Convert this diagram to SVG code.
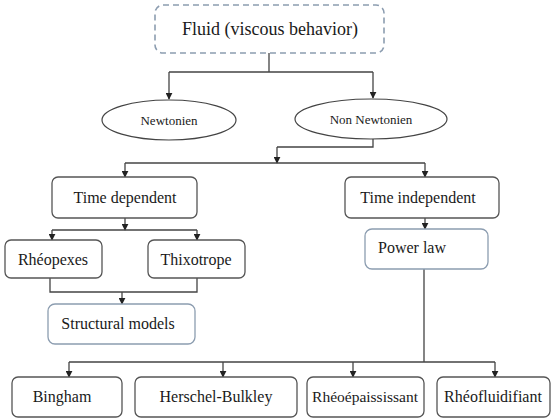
<svg xmlns="http://www.w3.org/2000/svg" width="552" height="418" viewBox="0 0 552 418">
<style>
.box{fill:#fff;stroke:#555;stroke-width:1.3}
.blue{fill:#fff;stroke:#8c9db0;stroke-width:1.3}
.dash{fill:#fff;stroke:#8c9db0;stroke-width:1.6;stroke-dasharray:6 4}
.ell{fill:#fff;stroke:#444;stroke-width:1.2}
.ln{fill:none;stroke:#444;stroke-width:1.3}
</style>
<defs>
<marker id="ah" viewBox="0 0 10 10" refX="9" refY="5" markerWidth="7" markerHeight="7" markerUnits="userSpaceOnUse" orient="auto">
<path d="M0,0 L10,5 L0,10 z" fill="#222"/>
</marker>
</defs>
<rect width="552" height="418" fill="#fff"/>
<g id="connectors">
<path class="ln" d="M269,53 V72 M169,72 H373"/>
<path class="ln" d="M169,72 V99" marker-end="url(#ah)"/>
<path class="ln" d="M373,72 V98" marker-end="url(#ah)"/>
<path class="ln" d="M373,139 V147 H277"/>
<path class="ln" d="M277,147 V163" marker-end="url(#ah)"/>
<path class="ln" d="M125,163 H425"/>
<path class="ln" d="M125,163 V177" marker-end="url(#ah)"/>
<path class="ln" d="M425,163 V177" marker-end="url(#ah)"/>
<path class="ln" d="M125,218 V230" marker-end="url(#ah)"/>
<path class="ln" d="M52,230 H197"/>
<path class="ln" d="M52,230 V240" marker-end="url(#ah)"/>
<path class="ln" d="M197,230 V240" marker-end="url(#ah)"/>
<path class="ln" d="M50,278 V292 H197 V278"/>
<path class="ln" d="M122,292 V304" marker-end="url(#ah)"/>
<path class="ln" d="M425,218 V229" marker-end="url(#ah)"/>
<path class="ln" d="M424,269 V362 M69,362 H495"/>
<path class="ln" d="M69,362 V377" marker-end="url(#ah)"/>
<path class="ln" d="M223,362 V377" marker-end="url(#ah)"/>
<path class="ln" d="M353,362 V377" marker-end="url(#ah)"/>
<path class="ln" d="M495,362 V377" marker-end="url(#ah)"/>
</g>
<g id="fluid"><rect class="dash" x="155" y="5" width="229" height="48" rx="8"/><text x="270" y="35" font-size="18" text-anchor="middle" fill="#1a1a1a" font-family="Liberation Serif" style="font-family:'Liberation Serif',serif !important">Fluid (viscous behavior)</text></g>
<g id="newtonien"><ellipse class="ell" cx="169" cy="120" rx="67" ry="20"/><text x="169" y="124.5" font-size="13" text-anchor="middle" fill="#1a1a1a" font-family="Liberation Serif" style="font-family:'Liberation Serif',serif !important">Newtonien</text></g>
<g id="non-newtonien"><ellipse class="ell" cx="371" cy="119" rx="76" ry="20"/><text x="371" y="123.5" font-size="13" text-anchor="middle" fill="#1a1a1a" font-family="Liberation Serif" style="font-family:'Liberation Serif',serif !important">Non Newtonien</text></g>
<g id="time-dependent"><rect class="box" x="52" y="177" width="145" height="41" rx="6"/><text x="125" y="202.5" font-size="16" text-anchor="middle" fill="#1a1a1a" font-family="Liberation Serif" style="font-family:'Liberation Serif',serif !important">Time dependent</text></g>
<g id="time-independent"><rect class="box" x="345" y="177" width="154" height="41" rx="6"/><text x="418" y="202.5" font-size="16" text-anchor="middle" fill="#1a1a1a" font-family="Liberation Serif" style="font-family:'Liberation Serif',serif !important">Time independent</text></g>
<g id="rheopexes"><rect class="box" x="5" y="240" width="97" height="38" rx="6"/><text x="53" y="264.5" font-size="16" text-anchor="middle" fill="#1a1a1a" font-family="Liberation Serif" style="font-family:'Liberation Serif',serif !important">Rhéopexes</text></g>
<g id="thixotrope"><rect class="box" x="148" y="240" width="97" height="38" rx="6"/><text x="196" y="264.5" font-size="16" text-anchor="middle" fill="#1a1a1a" font-family="Liberation Serif" style="font-family:'Liberation Serif',serif !important">Thixotrope</text></g>
<g id="structural-models"><rect class="blue" x="48" y="304" width="147" height="40" rx="7"/><text x="118" y="328.5" font-size="16" text-anchor="middle" fill="#1a1a1a" font-family="Liberation Serif" style="font-family:'Liberation Serif',serif !important">Structural models</text></g>
<g id="power-law"><rect class="blue" x="365" y="229" width="123" height="40" rx="7"/><text x="378" y="252.5" font-size="16" text-anchor="start" fill="#1a1a1a" font-family="Liberation Serif" style="font-family:'Liberation Serif',serif !important">Power law</text></g>
<g id="bingham"><rect class="box" x="12" y="377" width="110" height="40" rx="6"/><text x="62" y="401.5" font-size="16" text-anchor="middle" fill="#1a1a1a" font-family="Liberation Serif" style="font-family:'Liberation Serif',serif !important">Bingham</text></g>
<g id="herschel-bulkley"><rect class="box" x="135" y="377" width="162" height="40" rx="6"/><text x="216" y="401.5" font-size="16" text-anchor="middle" fill="#1a1a1a" font-family="Liberation Serif" style="font-family:'Liberation Serif',serif !important">Herschel-Bulkley</text></g>
<g id="rheoepaississant"><rect class="box" x="307" y="377" width="117" height="40" rx="6"/><text x="365" y="401.5" font-size="15.5" text-anchor="middle" fill="#1a1a1a" font-family="Liberation Serif" style="font-family:'Liberation Serif',serif !important">Rhéoépaississant</text></g>
<g id="rheofluidifiant"><rect class="box" x="437" y="377" width="113" height="40" rx="6"/><text x="493" y="401.5" font-size="16" text-anchor="middle" fill="#1a1a1a" font-family="Liberation Serif" style="font-family:'Liberation Serif',serif !important">Rhéofluidifiant</text></g>
</svg>
